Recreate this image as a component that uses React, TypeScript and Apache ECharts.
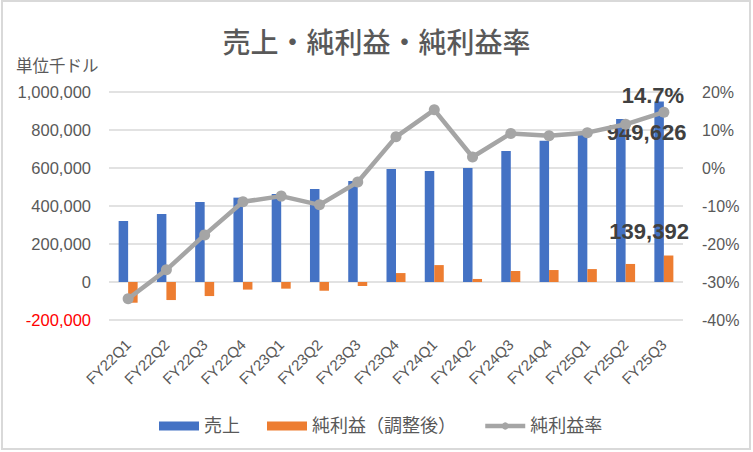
import React, { useEffect, useRef } from "react";
import * as echarts from "echarts";

const categories = [
  "FY22Q1", "FY22Q2", "FY22Q3", "FY22Q4",
  "FY23Q1", "FY23Q2", "FY23Q3", "FY23Q4",
  "FY24Q1", "FY24Q2", "FY24Q3", "FY24Q4",
  "FY25Q1", "FY25Q2", "FY25Q3",
];
const sales = [
  321000, 358000, 421000, 444000, 463000, 489000, 531000, 595000,
  584000, 600000, 689000, 744000, 774000, 858000, 949626,
];
const netIncome = [
  -109000, -95000, -74000, -40000, -35000, -46000, -21000, 47000,
  89000, 16000, 58000, 63000, 68000, 95000, 139392,
];
const margin = [
  -0.344, -0.268, -0.176, -0.089, -0.074, -0.097, -0.037, 0.082,
  0.153, 0.029, 0.091, 0.085, 0.093, 0.115, 0.147,
];
const leftTicks = { min: -200000, max: 1000000, interval: 200000 };
const rightTicks = { min: -0.4, max: 0.2, interval: 0.1 };

const FONT = "'Liberation Sans', 'Noto Sans CJK JP', sans-serif";
const GRAY = "#595959";

export default function App() {
  const ref = useRef<HTMLDivElement>(null);
  useEffect(() => {
    if (!ref.current) return;
    const chart = echarts.init(ref.current, null, { renderer: "svg" });
    const last = categories.length - 1;
    const labelStyle = { fontFamily: FONT, fontWeight: "bold", fontSize: 22, color: "#404040", lineHeight: 24 };
    chart.setOption({
      animation: false,
      backgroundColor: "#ffffff",
      textStyle: { fontFamily: FONT },
      title: {
        text: "売上・純利益・純利益率",
        left: "center",
        top: 24,
        textStyle: { fontFamily: FONT, fontSize: 28, fontWeight: 500, color: GRAY },
      },
      graphic: [
        {
          type: "rect",
          shape: { x: 2, y: 1, width: 748, height: 448 },
          style: { fill: "none", stroke: "#d9d9d9", lineWidth: 2 },
          silent: true,
        },
        {
          type: "text",
          left: 16,
          top: 58,
          style: { text: "単位千ドル", fontFamily: FONT, fontSize: 16.5, fill: GRAY },
        },
      ],
      legend: {
        left: 154,
        top: 412,
        itemWidth: 40,
        itemHeight: 9,
        itemGap: 27,
        textStyle: { fontFamily: FONT, fontSize: 18, color: GRAY },
        data: [
          { name: "売上", icon: "rect" },
          { name: "純利益（調整後）", icon: "rect" },
          { name: "純利益率", lineStyle: { width: 4.5, color: "#a5a5a5" }, itemStyle: { color: "#a5a5a5" } },
        ],
      },
      grid: { left: 109, right: 70, top: 92, bottom: 132, containLabel: false },
      xAxis: {
        type: "category",
        data: categories,
        axisLine: { show: false },
        axisTick: { show: false },
        axisLabel: { rotate: 45, margin: 22, fontFamily: FONT, fontSize: 15, color: GRAY, interval: 0 },
      },
      yAxis: [
        {
          type: "value",
          min: leftTicks.min,
          max: leftTicks.max,
          interval: leftTicks.interval,
          axisLine: { show: false },
          axisTick: { show: false },
          splitLine: { lineStyle: { color: "#d9d9d9", width: 1.5 } },
          axisLabel: {
            margin: 18,
            fontFamily: FONT,
            fontSize: 16.5,
            color: (v: any) => (Number(v) < 0 ? "#ff0000" : GRAY),
            formatter: (v: number) => v.toLocaleString("en-US"),
          },
        },
        {
          type: "value",
          min: rightTicks.min,
          max: rightTicks.max,
          interval: rightTicks.interval,
          axisLine: { show: false },
          axisTick: { show: false },
          splitLine: { show: false },
          axisLabel: {
            margin: 19,
            fontFamily: FONT,
            fontSize: 16,
            color: GRAY,
            formatter: (v: number) => `${Math.round(v * 100)}%`,
          },
        },
      ],
      series: [
        {
          name: "売上",
          type: "bar",
          barWidth: 9.5,
          barGap: "0%",
          itemStyle: { color: "#4472c4" },
          data: sales.map((v, i) =>
            i === last
              ? {
                  value: v,
                  label: {
                    show: true,
                    position: "top",
                    offset: [-12.5, 48],
                    formatter: (p: any) => Number(p.value).toLocaleString("en-US"),
                    ...labelStyle,
                  },
                }
              : v
          ),
        },
        {
          name: "純利益（調整後）",
          type: "bar",
          barWidth: 9.5,
          barGap: "0%",
          itemStyle: { color: "#ed7d31" },
          data: netIncome.map((v, i) =>
            i === last
              ? {
                  value: v,
                  label: {
                    show: true,
                    position: "top",
                    offset: [-19.5, -7],
                    formatter: (p: any) => Number(p.value).toLocaleString("en-US"),
                    ...labelStyle,
                  },
                }
              : v
          ),
        },
        {
          name: "純利益率",
          type: "line",
          yAxisIndex: 1,
          symbol: "circle",
          symbolSize: 11,
          lineStyle: { color: "#a5a5a5", width: 4.5 },
          itemStyle: { color: "#a5a5a5" },
          z: 5,
          data: margin.map((v, i) =>
            i === last
              ? {
                  value: v,
                  label: {
                    show: true,
                    position: "top",
                    offset: [-11, 6],
                    formatter: (p: any) => `${(Number(p.value) * 100).toFixed(1)}%`,
                    ...labelStyle,
                  },
                }
              : v
          ),
        },
      ],
    });
    return () => chart.dispose();
  }, []);
  return (
    <div
      ref={ref}
      style={{ position: "fixed", left: 0, top: 0, width: 753, height: 452 }}
    />
  );
}
